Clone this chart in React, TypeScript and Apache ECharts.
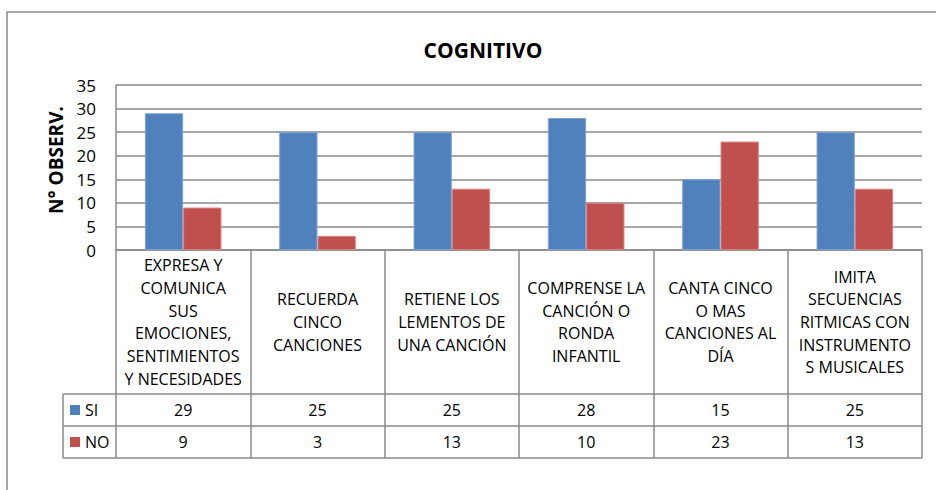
import React, { useEffect, useRef } from "react";
import * as echarts from "echarts";

const categories = [
  "EXPRESA Y\nCOMUNICA\nSUS\nEMOCIONES,\nSENTIMIENTOS\nY NECESIDADES",
  "RECUERDA\nCINCO\nCANCIONES",
  "RETIENE LOS\nLEMENTOS DE\nUNA CANCIÓN",
  "COMPRENSE LA\nCANCIÓN O\nRONDA\nINFANTIL",
  "CANTA CINCO\nO MAS\nCANCIONES AL\nDÍA",
  "IMITA\nSECUENCIAS\nRITMICAS CON\nINSTRUMENTO\nS MUSICALES",
];
const seriesNames = ["SI", "NO"];
const siValues = [29, 25, 25, 28, 15, 25];
const noValues = [9, 3, 13, 10, 23, 13];
const yTicks = { min: 0, max: 35, interval: 5 };
const titleText = "COGNITIVO";
const yAxisTitle = "N° OBSERV.";

const COLORS = ["#4F81BD", "#C0504D"];
const FONT = "'Open Sans', 'Noto Sans', sans-serif";
const LINE = "#8a8a8a";

export default function App() {
  const ref = useRef<HTMLDivElement>(null);
  useEffect(() => {
    document.body.style.margin = "0";
    if (!ref.current) return;
    const chart = echarts.init(ref.current, null, { renderer: "svg" });

    const gridLeft = 116;
    const gridRight = 922;
    const gridTop = 85;
    const gridBottom = 250;
    const labelRowBottom = 394;
    const rowH = 32;
    const tableLeft = 63;
    const colW = (gridRight - gridLeft) / categories.length;
    const rows = [siValues, noValues];

    const graphics: any[] = [
      {
        type: "rect",
        shape: { x: 7, y: 12, width: 1000, height: 1000 },
        style: { fill: "none", stroke: LINE, lineWidth: 1.5 },
        silent: true,
      },
      {
        type: "text",
        x: 56,
        y: 160,
        rotation: Math.PI / 2,
        style: {
          text: yAxisTitle,
          font: `bold 19px ${FONT}`,
          fill: "#000",
          align: "center",
          verticalAlign: "middle",
        },
        silent: true,
      },
    ];
    for (let r = 0; r <= rows.length; r++) {
      const y = labelRowBottom + r * rowH;
      graphics.push({
        type: "line",
        shape: { x1: tableLeft, y1: y, x2: gridRight, y2: y },
        style: { stroke: LINE, lineWidth: 1.5 },
        silent: true,
      });
    }
    graphics.push({
      type: "line",
      shape: { x1: tableLeft, y1: labelRowBottom, x2: tableLeft, y2: labelRowBottom + rows.length * rowH },
      style: { stroke: LINE, lineWidth: 1.5 },
      silent: true,
    });
    rows.forEach((vals, r) => {
      const cy = labelRowBottom + r * rowH + rowH / 2;
      graphics.push({
        type: "rect",
        shape: { x: 70, y: cy - 5, width: 10, height: 10 },
        style: { fill: COLORS[r] },
        silent: true,
      });
      graphics.push({
        type: "text",
        x: 85,
        y: cy,
        style: { text: seriesNames[r], font: `16px ${FONT}`, fill: "#000", verticalAlign: "middle", align: "left" },
        silent: true,
      });
      vals.forEach((v, i) => {
        graphics.push({
          type: "text",
          x: gridLeft + colW * (i + 0.5),
          y: cy,
          style: { text: String(v), font: `16px ${FONT}`, fill: "#000", verticalAlign: "middle", align: "center" },
          silent: true,
        });
      });
    });

    chart.setOption({
      animation: false,
      backgroundColor: "#fff",
      title: {
        text: titleText,
        left: 478,
        textAlign: "center",
        top: 34,
        textStyle: { fontFamily: FONT, fontWeight: "bold", fontSize: 21, color: "#000" },
      },
      grid: { left: gridLeft, right: 936 - gridRight, top: gridTop, bottom: 490 - gridBottom, containLabel: false },
      xAxis: {
        type: "category",
        data: categories,
        boundaryGap: true,
        axisLine: { show: true, lineStyle: { color: LINE, width: 1.5 } },
        axisTick: {
          show: true,
          alignWithLabel: false,
          length: labelRowBottom + rows.length * rowH - gridBottom,
          lineStyle: { color: LINE, width: 1.5 },
        },
        axisLabel: {
          interval: 0,
          margin: (labelRowBottom - gridBottom) / 2,
          verticalAlign: "middle",
          align: "center",
          fontFamily: FONT,
          fontSize: 16,
          lineHeight: 22.7,
          color: "#000",
        },
      },
      yAxis: {
        type: "value",
        min: yTicks.min,
        max: yTicks.max,
        interval: yTicks.interval,
        axisLine: { show: true, lineStyle: { color: LINE, width: 1.5 } },
        axisTick: { show: false },
        axisLabel: { margin: 20, fontFamily: FONT, fontSize: 17, color: "#000" },
        splitLine: { show: true, lineStyle: { color: LINE, width: 1.5 } },
      },
      series: [
        {
          name: seriesNames[0],
          type: "bar",
          data: siValues,
          barGap: "0%",
          barCategoryGap: "43%",
          itemStyle: { color: COLORS[0], borderColor: "#7ea3d3", borderWidth: 1 },
        },
        {
          name: seriesNames[1],
          type: "bar",
          data: noValues,
          barGap: "0%",
          barCategoryGap: "43%",
          itemStyle: { color: COLORS[1], borderColor: "#d88380", borderWidth: 1 },
        },
      ],
      graphic: graphics,
    });
    return () => chart.dispose();
  }, []);
  return <div ref={ref} style={{ width: 936, height: 490 }} />;
}
